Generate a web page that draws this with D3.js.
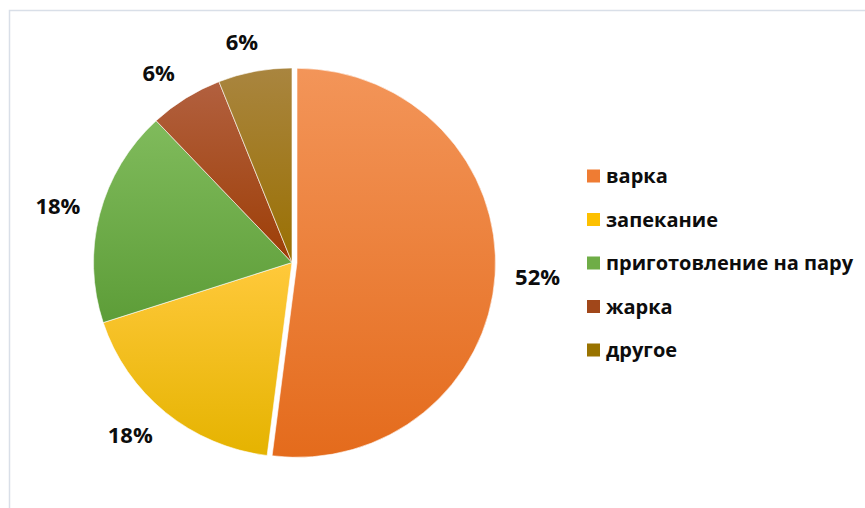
<!DOCTYPE html>
<html>
<head>
<meta charset="utf-8">
<script src="https://cdnjs.cloudflare.com/ajax/libs/d3/7.8.5/d3.min.js"></script>
<style>
  body { margin: 0; background: #fff; }
  text { font-family: "Open Sans", "Noto Sans", sans-serif; font-weight: bold; fill: #0d0d0d; }
</style>
</head>
<body>
<div id="chart"></div>
<script>
// data
var categories = ["варка", "запекание", "приготовление на пару", "жарка", "другое"];
var shares = [52, 18, 18, 6, 6];
var labels = ["52%", "18%", "18%", "6%", "6%"];

// excel-like gradient colours, lighter at the top
var colorTop = ["#f39559", "#ffc93b", "#80bb5c", "#b2603f", "#a9853f"];
var colorBottom = ["#e46b1c", "#e5b300", "#5d9d38", "#9d3e06", "#9a7002"];
var colorLegend = ["#ef7c33", "#fdc000", "#6fad47", "#a1471a", "#997300"];

var width = 865,
	height = 508,
	CX = 292,
	CY = 262.5,
	RADIUS = 198.5,
	SQUASH = 0.98, // pie is a touch flatter than it is wide
	EXPLODE = 5, // how far the first slice is pulled out
	LABEL_GAP = 20;

var svg = d3.select("#chart").append("svg")
	.attr("width", width)
	.attr("height", height);

var defs = svg.append("defs");

// chart area frame, runs off the right and bottom edges
svg.append("rect")
	.attr("x", 9.5).attr("y", 10.5)
	.attr("width", 900).attr("height", 600)
	.style("fill", "none")
	.style("stroke", "#d9dfe8")
	.style("stroke-width", 1.5);

categories.forEach(function(c, i) {
	var g = defs.append("linearGradient")
		.attr("id", "grad_" + i)
		.attr("x1", 0).attr("y1", 0).attr("x2", 0).attr("y2", 1);
	g.append("stop").attr("offset", "0%").attr("stop-color", colorTop[i]);
	g.append("stop").attr("offset", "100%").attr("stop-color", colorBottom[i]);
});

var pie = d3.pie().sort(null).value(function(d) { return d; });
var arcs = pie(shares);

var arc = d3.arc().innerRadius(0).outerRadius(RADIUS);

var mid = function(d) { return (d.startAngle + d.endAngle) / 2; };

var pieG = svg.append("g")
	.attr("transform", "translate(" + CX + "," + CY + ") scale(1," + SQUASH + ")");

pieG.selectAll(".slice")
	.data(arcs)
	.enter()
	.append("path")
	.attr("class", "slice")
	.attr("d", arc)
	.attr("transform", function(d, i) {
		var off = i === 0 ? EXPLODE : 0;
		var a = mid(d);
		return "translate(" + (Math.sin(a) * off) + "," + (-Math.cos(a) * off) + ")";
	})
	.style("fill", function(d, i) { return "url(#grad_" + i + ")"; })
	.style("stroke", "#fff")
	.style("stroke-width", 0.6);

// percent labels, placed just outside the edge like excel's "outside end"
var clamp = function(v) { return Math.max(-1, Math.min(1, v)); };

var labelG = svg.append("g");

labelG.selectAll(".pct")
	.data(arcs)
	.enter()
	.append("text")
	.attr("class", "pct")
	.style("font-size", "22px")
	.style("text-anchor", "middle")
	.text(function(d, i) { return labels[i]; })
	.each(function(d, i) {
		var w = this.getComputedTextLength(),
			h = 20;
		var a = mid(d);
		var sx = Math.sin(a), sy = -Math.cos(a);
		var r = RADIUS + (i === 0 ? EXPLODE : 0) + LABEL_GAP;
		var x = CX + sx * r + clamp(sx * 3) * w / 2;
		var y = CY + (sy * r) * SQUASH + sy * h / 2;
		d3.select(this).attr("x", x).attr("y", y).attr("dy", "0.35em");
	});

// legend
var legend = svg.append("g").attr("transform", "translate(587,176)");

var rows = legend.selectAll(".row")
	.data(categories)
	.enter()
	.append("g")
	.attr("class", "row")
	.attr("transform", function(d, i) { return "translate(0," + (i * 43.5) + ")"; });

rows.append("rect")
	.attr("x", 0).attr("y", -6.5)
	.attr("width", 13).attr("height", 13)
	.style("fill", function(d, i) { return colorLegend[i]; });

rows.append("text")
	.attr("x", 19)
	.attr("dy", "0.35em")
	.style("font-size", "20px")
	.text(function(d) { return d; });
</script>
</body>
</html>
